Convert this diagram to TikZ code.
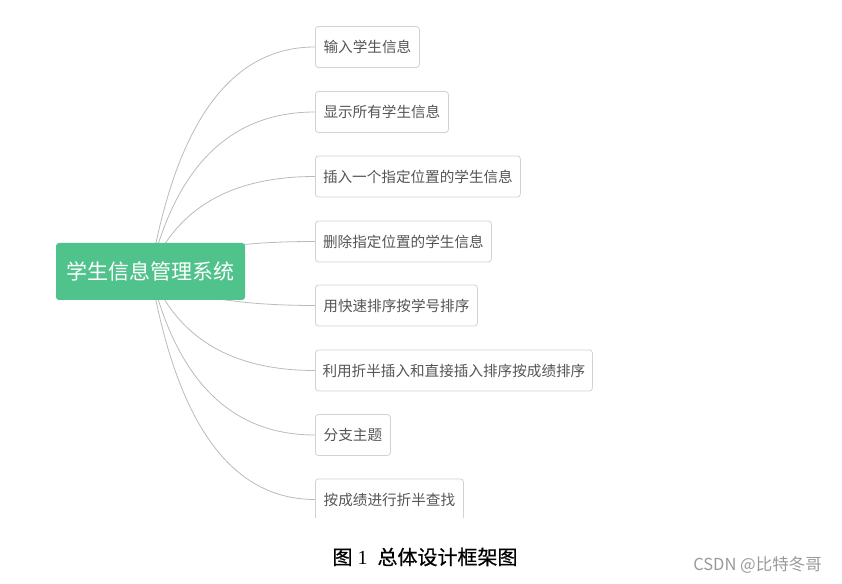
\documentclass[tikz,border=0pt]{standalone}
\usepackage{fontspec}
\setmainfont{Liberation Serif}
\newfontfamily\cjk{Noto Sans CJK SC}
\newfontfamily\cjkcap[FakeBold=0.6]{Noto Sans CJK SC}
\definecolor{rootgreen}{HTML}{50C28C}
\definecolor{boxline}{HTML}{D2D2D2}
\definecolor{linkcol}{HTML}{BBBBBB}
\definecolor{txtgray}{HTML}{555555}
\definecolor{markgray}{HTML}{9A9A9A}
\tikzset{
  rootbox/.style={fill=rootgreen, draw=none, rounded corners=3pt, minimum width=189pt, minimum height=57pt, inner sep=0pt, text=white, font=\cjk\fontsize{21}{21}\selectfont},
  leafbox/.style={draw=boxline, line width=0.8pt, fill=white, rounded corners=3pt, minimum height=41pt, inner sep=0pt, anchor=west, text=txtgray, font=\cjk\fontsize{14.6}{15}\selectfont},
  link/.style={draw=linkcol, line width=0.8pt},
}
\begin{document}
\begin{tikzpicture}[x=1pt,y=1pt]
\useasboundingbox (0,0) rectangle (842,583);
\begin{scope}
\clip (0,65) rectangle (842,583);
\node[leafbox, minimum width=104pt] (n1) at (315,536) {输入学生信息};
\node[leafbox, minimum width=133pt] (n2) at (315,471) {显示所有学生信息};
\node[leafbox, minimum width=205pt] (n3) at (315,406.5) {插入一个指定位置的学生信息};
\node[leafbox, minimum width=176pt] (n4) at (315,341.5) {删除指定位置的学生信息};
\node[leafbox, minimum width=162pt] (n5) at (315,277.5) {用快速排序按学号排序};
\node[leafbox, minimum width=277pt] (n6) at (315,212.5) {利用折半插入和直接插入排序按成绩排序};
\node[leafbox, minimum width=75pt] (n7) at (315,148) {分支主题};
\node[leafbox, minimum width=148pt] (n8) at (315,83.5) {按成绩进行折半查找};
\coordinate (rc) at (150.5,311.5);
\draw[link] (rc) .. controls +(26,149.7) and +(-84,0) .. (n1.west);
\draw[link] (rc) .. controls +(26,106.3) and +(-84,0) .. (n2.west);
\draw[link] (rc) .. controls +(26,63.3) and +(-84,0) .. (n3.west);
\draw[link] (rc) .. controls +(26,20) and +(-84,0) .. (n4.west);
\draw[link] (rc) .. controls +(20,-22.7) and +(-84,0) .. (n5.west);
\draw[link] (rc) .. controls +(26,-66) and +(-84,0) .. (n6.west);
\draw[link] (rc) .. controls +(26,-109) and +(-84,0) .. (n7.west);
\draw[link] (rc) .. controls +(26,-152) and +(-84,0) .. (n8.west);
\node[rootbox] (root) at (rc) {学生信息管理系统};
\end{scope}
\node[font=\fontsize{20}{20}\selectfont, text=black, inner sep=0pt] (cap) at (425,26) {{\cjkcap 图}~1~~{\cjkcap 总体设计框架图}};
\node[font=\cjk\fontsize{16.5}{16.5}\selectfont, text=markgray, inner sep=0pt] (mark) at (757.5,18) {CSDN @比特冬哥};
\end{tikzpicture}
\end{document}
